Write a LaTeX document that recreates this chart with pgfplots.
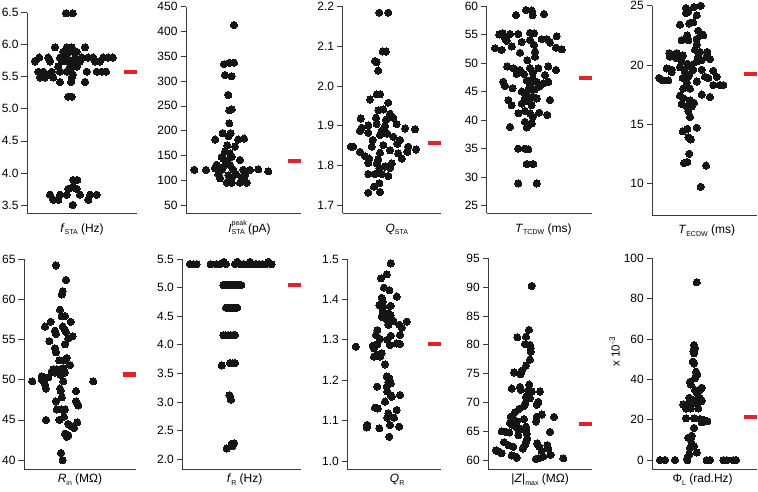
\documentclass[border=0pt]{standalone}
\usepackage{fontspec}
\setmainfont{Liberation Sans}
\usepackage{pgfplots}
\pgfplotsset{compat=1.18}
\definecolor{dot}{HTML}{151515}
\definecolor{redbar}{HTML}{E2232A}
\definecolor{axcol}{HTML}{3A3A3A}
\newcommand{\sub}[1]{\raisebox{-2.7pt}{\fontsize{7}{8}\selectfont #1}}
\pgfplotsset{
 panel/.style={scale only axis, clip=false, axis lines*=left,
   axis line style={axcol, line width=0.7pt, -}, xtick=\empty, ytick pos=left,
   tick align=outside, major tick length=5.5pt,
   every tick/.style={axcol, line width=0.7pt},
   tick label style={font=\fontsize{12}{14}\selectfont},
   yticklabel style={xshift=0.5pt},
   /pgf/number format/assume math mode=true,
   xlabel style={at={(axis description cs:0.5,0)}, anchor=base, yshift=-18.7pt, font=\fontsize{12}{14}\selectfont}},
 lowrow/.style={xlabel style={yshift=5.2pt}},
 dots/.style={only marks, mark=*, mark size=3.6pt, mark options={fill=dot, draw=dot, line width=0pt}},
 rbar/.style={no marks, redbar, line width=4.2pt},
 onedec/.style={yticklabel style={/pgf/number format/fixed, /pgf/number format/fixed zerofill, /pgf/number format/precision=1}},
}
\begin{document}
\begin{tikzpicture}
\path[use as bounding box] (0,0) rectangle (758pt,-491pt);
% ---------- Panel 1
\begin{axis}[panel, onedec, at={(27pt,-213.3pt)}, anchor=south west, width=110pt, height=200.6pt,
 xmin=27, xmax=137, ymin=3.37, ymax=6.5, ytick={3.5,4.0,4.5,5.0,5.5,6.0,6.5},
 xlabel={\textit{f}\sub{STA} (Hz)}]
\addplot[dots] coordinates {
(66,6.49)(72.7,6.49)
(55,5.96)(66.7,5.96)(71.7,5.96)(85,5.96)
(63.3,5.89)(70,5.89)(76.7,5.89)
(39.3,5.80)(48.3,5.80)(60,5.80)(66.7,5.80)(75,5.80)(81.7,5.80)(88.3,5.80)(93.3,5.80)(103.3,5.80)(108.3,5.80)(112.7,5.80)
(35,5.74)(50,5.74)(61.7,5.74)(68.3,5.74)(72.7,5.74)(80,5.74)(95,5.74)(100,5.74)
(58.3,5.66)(70,5.66)(76.7,5.66)
(38.3,5.58)(43.3,5.58)(51.7,5.58)(60,5.58)(66.7,5.58)(71,5.58)(86.7,5.58)(96.7,5.58)(101.7,5.58)(106,5.58)
(48.3,5.53)(72.7,5.53)
(40,5.49)(45,5.49)(53.3,5.49)(71.7,5.49)
(60,5.42)(71,5.42)(85,5.42)
(68.3,5.19)(71.7,5.19)
(73.3,3.89)(77.3,3.89)
(68.3,3.75)(72.7,3.78)(76.7,3.75)
(50,3.66)(60,3.66)(66.7,3.66)(80,3.66)(90,3.66)(96.7,3.66)
(53.3,3.58)(58.3,3.58)(88.3,3.58)
(72.7,3.50)
};
\addplot[rbar] coordinates {(123.5,5.575)(137,5.575)};
\end{axis}
% ---------- Panel 2
\begin{axis}[panel, at={(186pt,-213.3pt)}, anchor=south west, width=115pt, height=206.6pt,
 xmin=186, xmax=301, ymin=33.3, ymax=450, ytick={50,100,...,450},
 xlabel={\textit{I}\makebox[0pt][l]{\raisebox{6.5pt}{\fontsize{7}{8}\selectfont peak}}\sub{STA} (pA)}, xlabel style={xshift=6pt}]
\addplot[dots] coordinates {
(234,413)
(224,334)(229.3,337)(234,337)
(225,312)(231.7,310)
(228.3,272)
(229.3,241)(231.7,243)
(229.3,215)
(222.7,195)(230.7,195)(215.3,182)(228.3,189)(238.3,182)(244,184)
(227.3,170)(235,168)
(225,158)(230,154)
(221.7,147)(231.7,147)
(223.3,144)(227.3,139)(240,141)
(216.7,131)(225,131)(230,131)
(194.3,121)(206,121)(215,124)(221.7,121)(233.3,121)(243.3,121)(250,121)(258.3,122)(268.3,118)
(218.3,112)(228.3,110)(236,112)(245,110)
(220,104)(231.7,104)(241.7,106)
(226.7,95)(231.7,95)(240,95)(246.7,95)
};
\addplot[rbar] coordinates {(287.5,138.8)(301,138.8)};
\end{axis}
% ---------- Panel 3
\begin{axis}[panel, onedec, at={(342.7pt,-213.3pt)}, anchor=south west, width=98.3pt, height=206.6pt,
 xmin=342.7, xmax=441, ymin=1.679, ymax=2.2, ytick={1.7,1.8,1.9,2.0,2.1,2.2},
 xlabel={\textit{Q}\sub{STA}}, xlabel style={xshift=5pt}]
\addplot[dots] coordinates {
(379.3,2.185)(388.3,2.185)
(382.7,2.087)(386,2.087)
(375,2.063)(376.7,2.06)
(378.3,2.039)
(376.7,1.979)(380,1.979)
(370,1.966)
(388.3,1.958)
(378.3,1.939)(383.3,1.941)(390,1.93)
(360.7,1.918)(376,1.92)(386,1.915)(393.3,1.92)
(368.3,1.901)(376.7,1.904)(385,1.899)(396.7,1.904)(361.7,1.895)
(368.3,1.882)(381.7,1.887)(387.3,1.880)(405,1.893)(415,1.891)(360,1.887)
(372.7,1.864)(380,1.876)(393.3,1.872)(400,1.864)
(350.7,1.847)(353.3,1.847)(371.7,1.847)(383.3,1.851)(397.3,1.854)(408.3,1.847)(416,1.840)(390,1.838)
(360,1.834)(380,1.832)(398.3,1.830)(407.3,1.834)
(365,1.823)(369.3,1.817)(378.3,1.815)(401.7,1.817)
(368.3,1.806)(376.7,1.805)(391.7,1.805)
(379.3,1.793)(385,1.797)(390,1.793)
(368.3,1.778)(375,1.778)(381.7,1.778)(388.3,1.773)
(379.3,1.755)
(374,1.746)
(368.3,1.731)(380,1.733)
};
\addplot[rbar] coordinates {(427.5,1.857)(441,1.857)};
\end{axis}
% ---------- Panel 4
\begin{axis}[panel, at={(486.7pt,-213.3pt)}, anchor=south west, width=105.3pt, height=207.3pt,
 xmin=486.7, xmax=592, ymin=23.66, ymax=60, ytick={25,30,...,60},
 xlabel={\textit{T}\sub{TCDW} (ms)}, xlabel style={xshift=4pt}]
\addplot[dots] coordinates {
(526,59.3)(531.7,59.2)(516,58.4)(532.7,58.4)(544,58.6)
(499.3,55.0)(502.7,55.2)(510,55.1)(518.3,55.1)(530,55.3)(534,55.2)(556.7,54.7)
(505,54.3)(506.7,53.9)(530,54.0)(541.7,54.2)(546.7,54.2)(550,53.6)
(495,52.6)(501.7,52.3)(511.7,52.9)(521.7,53.7)(534,53.2)(556,52.7)(561.7,52.4)
(520,51.8)(535,52.0)(527.3,50.5)(535,51.1)
(507.3,49.4)(513.3,49.1)(520,48.8)(530,49.1)(538.3,49.1)(548.3,49.4)(556,48.8)(516.7,48.1)(524,48.1)(545,47.9)(532.7,48.3)
(503.3,46.7)(505,46.0)(512.7,45.6)(526.7,47.0)(532.7,47.3)(536.7,46.7)(543.3,46.4)(548.3,46.7)(530,46.1)(528.3,45.3)(535,45.4)(521.7,45.0)(539.3,45.9)(526.7,44.4)(532.7,44.1)(536.7,43.8)
(508.3,43.5)(511.7,42.6)(525,43.8)(529.3,43.2)(550,43.5)(521.7,42.9)(531.7,42.6)
(518.3,41.2)(525,41.6)(530,41.2)(539.3,41.3)(547.3,40.9)(532.7,40.6)
(525,39.7)(528.3,39.1)(531.7,39.4)(510,38.8)(526.7,38.7)
(518.3,35.0)(525,35.0)(528.3,34.9)
(526.7,32.3)(533.3,32.3)
(518.3,28.9)(536.7,28.9)
};
\addplot[rbar] coordinates {(578.5,47.43)(592,47.43)};
\end{axis}
% ---------- Panel 5
\begin{axis}[panel, at={(652.3pt,-215pt)}, anchor=south west, width=104.7pt, height=209.2pt,
 xmin=652.3, xmax=757, ymin=7.32, ymax=25, ytick={10,15,20,25},
 xlabel={\textit{T}\sub{ECDW} (ms)}, xlabel style={xshift=2pt}]
\addplot[dots] coordinates {
(686,24.8)(694,24.9)(700.7,25.0)
(686,24.4)(696.7,24.2)(688.3,24.5)
(680,23.4)(689.3,23.5)(693.3,23.6)
(698.3,22.9)(701.7,22.6)(687.3,22.5)(703.3,22.5)
(681.7,22.1)(688.3,22.1)(696.7,22.2)
(696.7,21.7)(695,21.3)(700,21.1)
(669.3,21.0)(676.7,21.0)(707.3,21.1)(670,20.7)(676,20.6)(682.7,20.8)(698.3,20.7)(706.7,20.7)
(710,20.5)(701.7,20.4)(681.7,20.3)(687.3,20.1)(691.7,20.0)(696.7,20.3)
(666.7,19.7)(671.7,19.6)(680,19.8)(687.3,19.9)(693.3,19.6)(701.7,19.6)(713.3,19.5)
(659.3,18.9)(662.7,18.7)(668.3,18.7)(671.7,19.4)(685,19.4)(689.3,19.2)(705,19.0)(708.3,18.9)(716.7,19.0)(720,18.3)(723.3,18.3)(713.3,18.3)
(682.7,18.9)(688.3,19.0)(686.7,18.5)(690,18.0)(683.3,18.0)(696.7,18.6)(701.7,17.5)(710,17.3)
(680,17.4)(683.3,17.2)(690,17.0)(681.7,16.7)(686.7,16.5)(691.7,16.5)(694,16.8)(688.3,16.1)(690,15.6)
(682.7,14.4)(687.3,14.6)(696.7,14.7)(688.3,13.9)(690.7,13.7)
(689.3,12.5)
(684,11.7)(687.3,11.8)(706,11.5)
(700.7,9.7)
};
\addplot[rbar] coordinates {(743.5,19.24)(757,19.24)};
\end{axis}
% ---------- Panel 6
\begin{axis}[panel, lowrow, at={(24pt,-469pt)}, anchor=south west, width=112pt, height=210pt,
 xmin=24, xmax=136, ymin=38.9, ymax=65, ytick={40,45,...,65},
 xlabel={\textit{R}\sub{in} (MΩ)}]
\addplot[dots] coordinates {
(56,64.2)(66,62.4)(62.7,61.0)(61.7,60.6)
(60,58.7)(61.7,57.9)(65,57.9)(50.7,57.2)(70.7,57.2)(45,56.6)(62.7,56.6)(65,56.2)
(55,56.1)(56,55.7)(66,55.9)(72.7,55.4)(68.3,55.1)
(49.3,54.8)(65,54.4)
(55,53.9)(56,53.4)(66.7,52.7)(65,52.4)
(59.3,52.4)(70,51.8)
(53.3,51.3)(56.7,51.3)(60,51.1)(63.3,51.4)(51.7,51.0)(55,50.9)(59.3,50.9)(65,50.9)(60.7,50.6)
(32.3,49.8)(41.7,50.4)(41.7,50.0)(48.3,50.3)(45,49.4)(46,48.9)(63.3,49.8)(93.3,49.8)
(60,48.9)(60.7,48.6)(76,48.6)(61.7,47.8)(56,47.3)(76,47.3)(56.7,46.3)(61.7,46.3)(65,46.3)(78.3,46.8)(46,45.0)(59.3,45.0)(64,45.4)
(68.3,44.5)(71.7,44.2)(77.3,44.7)(74,44.0)
(65,43.3)(68.3,43.1)(66.7,42.9)
(61,40.9)(62.7,40.0)
};
\addplot[rbar] coordinates {(122.5,50.64)(136,50.64)};
\end{axis}
% ---------- Panel 7
\begin{axis}[panel, lowrow, onedec, at={(182.3pt,-469pt)}, anchor=south west, width=118.7pt, height=210pt,
 xmin=182.3, xmax=301, ymin=1.83, ymax=5.5, ytick={2.0,2.5,3.0,3.5,4.0,4.5,5.0,5.5},
 xlabel={\textit{f}\sub{R} (Hz)}, xlabel style={xshift=3pt}]
\addplot[dots] coordinates {
(190,5.41)(193.3,5.41)(196.7,5.41)(210.7,5.41)(216.7,5.41)(220,5.41)(224,5.45)(226,5.41)
(235,5.41)(237.3,5.45)(240,5.41)(243.3,5.41)(247.3,5.41)(250,5.45)(252.7,5.41)(256,5.41)(259.3,5.41)(262.7,5.41)(266,5.41)(268.3,5.45)(271.7,5.41)
(223.3,5.045)(225.3,5.045)(227.3,5.045)(229.3,5.045)(231.3,5.045)(233.3,5.045)(235.3,5.045)(237.3,5.045)(239.3,5.045)(241.3,5.045)
(226,4.65)(228.5,4.65)(231,4.65)(233.5,4.65)(236,4.65)(237.3,4.65)
(223.3,4.17)(225.8,4.17)(228.3,4.17)(230.8,4.17)(233.3,4.17)(235,4.17)
(230,3.68)(232.5,3.68)(235,3.68)(221.7,3.64)
(229.3,3.12)(230,3.10)(231,3.04)
(231.7,2.27)(234,2.28)(232.7,2.23)(226.7,2.19)
};
\addplot[rbar] coordinates {(287.5,5.045)(301,5.045)};
\end{axis}
% ---------- Panel 8
\begin{axis}[panel, lowrow, onedec, at={(347.3pt,-469pt)}, anchor=south west, width=93.7pt, height=210pt,
 xmin=347.3, xmax=441, ymin=0.98, ymax=1.5, ytick={1.0,1.1,1.2,1.3,1.4,1.5},
 xlabel={\textit{Q}\sub{R}}, xlabel style={xshift=3pt}]
\addplot[dots] coordinates {
(390.7,1.489)
(386.7,1.462)(381,1.452)
(384,1.429)(389.3,1.423)(396.7,1.407)
(381.7,1.404)(382.7,1.394)(379.3,1.386)(383.3,1.382)(390.7,1.384)
(382.7,1.371)(388.3,1.366)(390.7,1.361)(381.7,1.357)(386.7,1.351)(393.3,1.347)(406.7,1.345)
(377.3,1.324)(399.3,1.337)(401.7,1.330)(388.3,1.337)
(376,1.312)(380,1.302)(390.7,1.310)(387.3,1.300)(400,1.312)
(372.7,1.285)(377.3,1.289)(374,1.279)(390,1.287)(396.7,1.291)(400,1.290)(355.7,1.283)
(381.7,1.267)(377.3,1.262)(374,1.258)(380,1.258)
(385,1.239)
(386.7,1.209)(389.3,1.205)(388.3,1.195)(390.7,1.192)(377.3,1.184)(386.7,1.184)
(387.3,1.172)(390.7,1.163)(400,1.163)(391.7,1.159)
(385,1.147)
(375,1.132)(377.7,1.130)(396.7,1.126)
(388.3,1.118)(394,1.107)(387.3,1.107)
(390,1.089)(399.3,1.085)(367.3,1.089)(366.7,1.083)(379.3,1.081)
(389.3,1.060)
};
\addplot[rbar] coordinates {(427.5,1.289)(441,1.289)};
\end{axis}
% ---------- Panel 9
\begin{axis}[panel, lowrow, at={(488.3pt,-469pt)}, anchor=south west, width=103.7pt, height=210.7pt,
 xmin=488.3, xmax=592, ymin=58.45, ymax=95, ytick={60,65,...,95},
 xlabel={|\textit{Z}|\sub{max} (MΩ)}]
\addplot[dots] coordinates {
(531.7,90.2)
(529,82.6)(517.3,81.3)(526,81.4)
(525,80.1)(530,80.0)(530.7,78.8)(530.7,79.4)(530,77.4)
(526,76.4)(521.7,75.5)(514,75.2)(520.7,74.9)
(529.3,73.1)(511.7,72.4)(520,72.7)(520.7,72.2)(528.3,72.0)(531.7,71.9)(540,71.9)
(526,71.0)(526.7,70.6)(525,69.8)(524,69.4)(538.3,70.1)(536.7,69.6)(530,70.7)
(519.3,68.9)(515,68.3)(510.7,67.5)(513.3,67.1)(524,67.1)(536.7,67.5)(541.7,67.9)(554,67.5)
(510,66.4)(516.7,66.7)(512.7,66.1)(526,65.8)(526,65.2)(536,66.7)(516.7,65.6)
(501.7,65.0)(506,64.9)(509.3,64.8)(520.7,65.4)(526.7,64.6)(518.3,64.3)(550,64.9)
(504,63.1)(508.3,62.6)(513.3,62.3)(527.3,63.7)(526,63.2)(525,62.6)(522.7,62.0)(537.3,62.9)(539.3,62.3)(547.3,62.6)
(496,61.7)(498.3,61.5)(501.7,61.2)(511.7,60.8)(516,60.6)(541.7,61.6)(548.3,62.0)(550.7,60.9)(543.3,60.6)(538.3,60.3)(536,60.2)(563.3,60.3)(516.7,60.4)
};
\addplot[rbar] coordinates {(578.5,66.3)(592,66.3)};
\end{axis}
% ---------- Panel 10
\begin{axis}[panel, lowrow, at={(652.3pt,-469pt)}, anchor=south west, width=104.7pt, height=210.7pt,
 xmin=652.3, xmax=757, ymin=-4.4, ymax=100, ytick={0,20,...,100},
 xlabel={Φ\sub{L} (rad.Hz)}, xlabel style={xshift=-2pt}]
\addplot[dots] coordinates {
(696.7,88.1)
(694,57.0)(695,55.4)(693.3,54.0)(694,52.9)
(692.7,48.8)(694,47.9)
(696,43.8)(697.3,42.5)(695,40.5)(690,38.8)(690.7,37.5)(701.7,35.9)(700,34.7)(695,34.7)(697.3,33.1)
(689.3,30.9)(700,30.6)(701.7,29.3)(693.3,29.8)(696,28.1)(688.3,27.6)(686,25.6)(683.3,27.6)(690.7,25.6)(698.3,25.6)
(686,20.7)(694,20.7)(700,20.3)(704,19.8)(707.3,19.3)(701.7,18.7)
(694,16.0)(691.7,12.1)(688.3,11.1)(690.7,10.4)
(691.7,7.8)(694,6.9)(690,6.1)
(696.7,3.8)(689.3,2.8)(687.3,0.8)
(660,0)(665,0)(675,0)(687.3,0)(706.7,0)(710,0)(723.3,0)(726.7,0)(733.3,0)(736,0)
};
\addplot[rbar] coordinates {(743.5,21.2)(757,21.2)};
\node[rotate=90, anchor=center, font=\fontsize{11.5}{13}\selectfont] at (axis description cs:-0.36,0.557) {x 10\textsuperscript{-3}};
\end{axis}
\end{tikzpicture}
\end{document}
